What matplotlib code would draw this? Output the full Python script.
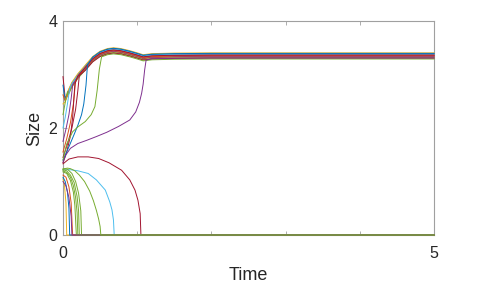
import matplotlib
matplotlib.use("Agg")
import matplotlib.pyplot as plt

# ---------------- data ----------------
T_END = 5.0

# shared path of the surviving group (band centre)
env_t = [0.03, 0.07, 0.12, 0.20, 0.30, 0.40, 0.50, 0.60, 0.68, 0.78, 0.90, 1.00, 1.08, 1.20, 1.50, 2.00, 5.00]
env_v = [2.50, 2.65, 2.80, 2.96, 3.12, 3.28, 3.38, 3.43, 3.445, 3.43, 3.39, 3.35, 3.315, 3.335, 3.345, 3.35, 3.35]

# survivors: early part (t, v) until they join the band, then band + offset
surv_t = [
    [0, 0.03],
    [0, 0.03],
    [0, 0.03],
    [0, 0.03],
    [0, 0.02, 0.04, 0.06],
    [0, 0.03, 0.06, 0.09],
    [0, 0.04, 0.08, 0.11, 0.13],
    [0, 0.05, 0.10, 0.14, 0.17],
    [0, 0.05, 0.10, 0.13, 0.16],
    [0, 0.06, 0.12, 0.17, 0.20, 0.22],
    [0, 0.08, 0.15, 0.20, 0.25, 0.28, 0.31, 0.33],
    [0, 0.05, 0.13, 0.20, 0.30, 0.38, 0.43, 0.46, 0.49, 0.52],
    [0, 0.04, 0.10, 0.20, 0.32, 0.45, 0.59, 0.75, 0.90, 0.98, 1.03, 1.06, 1.08, 1.10, 1.12],
]
surv_v = [
    [2.96, 2.55],
    [2.80, 2.52],
    [2.62, 2.50],
    [2.45, 2.49],
    [2.25, 2.40, 2.55, 2.68],
    [2.00, 2.20, 2.45, 2.73],
    [1.75, 1.98, 2.25, 2.55, 2.80],
    [1.55, 1.80, 2.10, 2.45, 2.88],
    [1.35, 1.55, 1.85, 2.20, 2.82],
    [1.45, 1.70, 2.00, 2.35, 2.70, 2.98],
    [1.40, 1.65, 1.88, 2.05, 2.25, 2.45, 2.80, 3.18],
    [1.40, 1.70, 1.93, 2.02, 2.12, 2.25, 2.40, 2.70, 3.10, 3.33],
    [1.36, 1.50, 1.62, 1.71, 1.77, 1.84, 1.92, 2.03, 2.15, 2.30, 2.48, 2.65, 2.82, 3.08, 3.27],
]
surv_off = [0.010, 0.040, -0.020, 0.055, -0.035, 0.025, -0.010, 0.000, 0.015, -0.045, 0.045, -0.060, -0.040]

# lines that die out (drop to zero and stay there)
dead_t = [
    [0, 0.02, 0.04, 0.05],
    [0, 0.03, 0.06, 0.08, 0.09],
    [0, 0.04, 0.08, 0.11, 0.13],
    [0, 0.04, 0.08, 0.11, 0.12],
    [0, 0.05, 0.10, 0.14, 0.16, 0.18],
    [0, 0.05, 0.10, 0.14, 0.17, 0.19, 0.20],
    [0, 0.05, 0.10, 0.15, 0.19, 0.21, 0.22],
    [0, 0.06, 0.12, 0.17, 0.21, 0.24, 0.25],
    [0, 0.10, 0.20, 0.34, 0.45, 0.57, 0.63, 0.66, 0.68, 0.69],
    [0, 0.08, 0.20, 0.34, 0.48, 0.62, 0.79, 0.90, 0.97, 1.01, 1.04, 1.05],
    [0, 0.02, 0.06, 0.10, 0.16, 0.22, 0.29, 0.36, 0.41, 0.45, 0.48, 0.50, 0.51],
]
dead_v = [
    [1.05, 0.92, 0.60, 0.00],
    [1.08, 1.00, 0.80, 0.50, 0.00],
    [1.12, 1.08, 0.90, 0.60, 0.00],
    [1.00, 0.92, 0.70, 0.35, 0.00],
    [1.18, 1.15, 1.02, 0.80, 0.55, 0.00],
    [1.20, 1.17, 1.08, 0.92, 0.70, 0.42, 0.00],
    [1.22, 1.20, 1.12, 0.98, 0.72, 0.45, 0.00],
    [1.24, 1.23, 1.15, 1.00, 0.78, 0.45, 0.00],
    [1.22, 1.22, 1.20, 1.15, 1.03, 0.84, 0.62, 0.47, 0.28, 0.00],
    [1.33, 1.42, 1.46, 1.46, 1.43, 1.35, 1.21, 1.03, 0.84, 0.65, 0.40, 0.00],
    [1.22, 1.24, 1.25, 1.24, 1.20, 1.12, 1.00, 0.82, 0.64, 0.46, 0.30, 0.16, 0.00],
]

x_ticks = [0, 1, 2, 3, 4, 5]
x_labels = ["0", "", "", "", "", "5"]
y_ticks = [0, 2, 4]
y_labels = ["0", "2", "4"]

# ---------------- style ----------------
C = {"b": "#0072BD", "o": "#D95319", "y": "#EDB120", "p": "#7E2F8E",
     "g": "#77AC30", "c": "#4DBEEE", "r": "#A2142F"}
surv_col = [C["r"], C["b"], C["o"], C["y"], C["g"], C["c"], C["p"], C["o"],
            C["r"], C["r"], C["b"], C["g"], C["p"]]
dead_col = [C["y"], C["b"], C["o"], C["p"], C["g"], C["g"], C["g"], C["g"],
            C["c"], C["r"], C["g"]]
dead_order = [8, 9, 0, 1, 2, 4, 5, 6, 7, 3, 10]

plt.rcParams["font.family"] = ["Liberation Sans", "DejaVu Sans"]
fig = plt.figure(figsize=(4.8, 2.85), dpi=100)
ax = fig.add_axes([63 / 480, 50 / 285, 371 / 480, 214 / 285])

LW = 0.7
for i in dead_order:
    t = dead_t[i] + [T_END]
    v = dead_v[i] + [0.0]
    ax.plot(t, v, color=dead_col[i], lw=LW, clip_on=False, zorder=3)

for i in range(len(surv_t)):
    tj = surv_t[i][-1]
    t = list(surv_t[i]) + [et for et in env_t if et > tj + 1e-9]
    v = list(surv_v[i]) + [ev + surv_off[i] for et, ev in zip(env_t, env_v) if et > tj + 1e-9]
    ax.plot(t, v, color=surv_col[i], lw=LW, clip_on=False, zorder=3)

ax.set_xlim(0, 5)
ax.set_ylim(0, 4)
ax.set_xticks(x_ticks)
ax.set_xticklabels(x_labels)
ax.set_yticks(y_ticks)
ax.set_yticklabels(y_labels)
for s in ax.spines.values():
    s.set_color("#a0a0a0")
    s.set_linewidth(0.8)
ax.tick_params(axis="x", direction="in", length=3, width=0.6, color="#a0a0a0",
               labelsize=11.5, labelcolor="#262626", top=True, pad=8)
ax.tick_params(axis="y", direction="in", length=3, width=0.6, color="#a0a0a0",
               labelsize=11.5, labelcolor="#262626", right=False, pad=4)
ax.set_xlabel("Time", fontsize=13, color="#262626", labelpad=4)
ax.set_ylabel("Size", fontsize=13, color="#262626", labelpad=4)

fig.savefig("out.png", dpi=100)
